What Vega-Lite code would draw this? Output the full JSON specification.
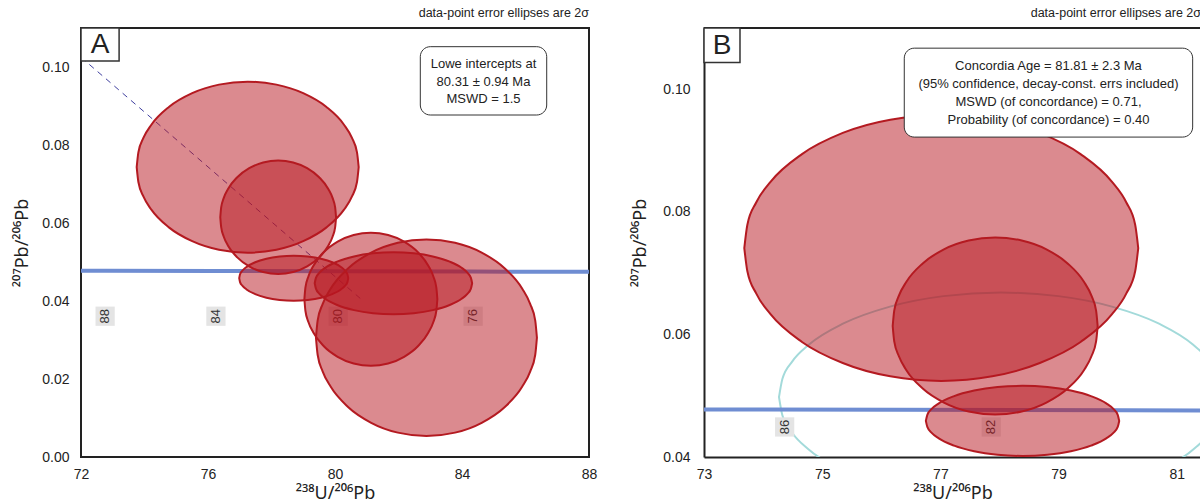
{
  "$schema": "https://vega.github.io/schema/vega-lite/v6.json",
  "padding": {"left": 12, "top": 5, "right": 0, "bottom": 0},
  "spacing": 33,
  "config": {
    "font": "Liberation Sans",
    "view": {"stroke": null},
    "axis": {"grid": false, "ticks": false, "domain": false, "labelFont": "Liberation Sans", "labelFontSize": 14, "labelColor": "#222", "titleFont": "Noto Sans", "titleFontSize": 18, "titleFontWeight": "normal", "titleColor": "#222", "labelFlush": false},
    "title": {"font": "Liberation Sans", "fontSize": 12.5, "fontWeight": "normal", "color": "#222", "anchor": "end", "offset": 8, "frame": "group"}
  },
  "datasets": {
    "conc": [
      {"x": 71.12, "y": 0.04781}, {"x": 72.75, "y": 0.04777}, {"x": 76.25, "y": 0.0477}, {"x": 80.08, "y": 0.04762}, {"x": 84.32, "y": 0.04754}, {"x": 89.06, "y": 0.04745}
    ],
    "agesA": [
      {"age": "88", "x": 72.76, "y": 0.0361}, {"age": "84", "x": 76.25, "y": 0.0361}, {"age": "80", "x": 80.1, "y": 0.0361}, {"age": "76", "x": 84.35, "y": 0.0361}
    ],
    "agesB": [
      {"age": "86", "x": 74.365, "y": 0.0449}, {"age": "82", "x": 77.86, "y": 0.0449}
    ],
    "discA": [{"x": 72, "y": 0.1025}, {"x": 80.89, "y": 0.04}],
    "boxA": [{"x": 82.687, "x2": 86.668, "y": 0.10521, "y2": 0.08769}],
    "txtA": [
      {"t": "Lowe intercepts at", "x": 84.677, "y": 0.10069},
      {"t": "80.31 ± 0.94 Ma", "x": 84.677, "y": 0.09608},
      {"t": "MSWD = 1.5", "x": 84.677, "y": 0.09179}
    ],
    "boxB": [{"x": 76.389, "x2": 81.269, "y": 0.10671, "y2": 0.0922}],
    "txtB": [
      {"t": "Concordia Age = 81.81 ± 2.3 Ma", "x": 78.829, "y": 0.10374},
      {"t": "(95% confidence, decay-const. errs included)", "x": 78.829, "y": 0.10086},
      {"t": "MSWD (of concordance) = 0.71,", "x": 78.829, "y": 0.09793},
      {"t": "Probability (of concordance) = 0.40", "x": 78.829, "y": 0.09496}
    ],
    "letA": [{"t": "A", "x": 72, "x2": 73.2, "y": 0.11, "y2": 0.10154, "tx": 72.598, "ty": 0.10564}],
    "letB": [{"t": "B", "x": 73, "x2": 73.609, "y": 0.11, "y2": 0.10439, "tx": 73.305, "ty": 0.10699}],
    "topB": [{"x": 73, "x2": 81.41, "y": 0.11}],
    "ellA": [
      {"id": "a1", "x": 73.754, "y": 0.07431, "y2": 0.07431},
      {"id": "a1", "x": 73.807, "y": 0.07812, "y2": 0.07051},
      {"id": "a1", "x": 73.965, "y": 0.08181, "y2": 0.06681},
      {"id": "a1", "x": 74.222, "y": 0.08527, "y2": 0.06335},
      {"id": "a1", "x": 74.778, "y": 0.08981, "y2": 0.05881},
      {"id": "a1", "x": 75.502, "y": 0.09329, "y2": 0.05533},
      {"id": "a1", "x": 76.345, "y": 0.09548, "y2": 0.05314},
      {"id": "a1", "x": 77.25, "y": 0.09623, "y2": 0.05239},
      {"id": "a1", "x": 78.155, "y": 0.09548, "y2": 0.05314},
      {"id": "a1", "x": 78.998, "y": 0.09329, "y2": 0.05533},
      {"id": "a1", "x": 79.722, "y": 0.08981, "y2": 0.05881},
      {"id": "a1", "x": 80.278, "y": 0.08527, "y2": 0.06335},
      {"id": "a1", "x": 80.535, "y": 0.08181, "y2": 0.06681},
      {"id": "a1", "x": 80.693, "y": 0.07812, "y2": 0.07051},
      {"id": "a1", "x": 80.746, "y": 0.07431, "y2": 0.07431},
      {"id": "a2", "x": 76.387, "y": 0.06146, "y2": 0.06146},
      {"id": "a2", "x": 76.415, "y": 0.06398, "y2": 0.05894},
      {"id": "a2", "x": 76.497, "y": 0.06643, "y2": 0.05649},
      {"id": "a2", "x": 76.631, "y": 0.06873, "y2": 0.05419},
      {"id": "a2", "x": 76.921, "y": 0.07174, "y2": 0.05118},
      {"id": "a2", "x": 77.298, "y": 0.07405, "y2": 0.04887},
      {"id": "a2", "x": 77.738, "y": 0.0755, "y2": 0.04742},
      {"id": "a2", "x": 78.21, "y": 0.076, "y2": 0.04692},
      {"id": "a2", "x": 78.682, "y": 0.0755, "y2": 0.04742},
      {"id": "a2", "x": 79.122, "y": 0.07405, "y2": 0.04887},
      {"id": "a2", "x": 79.499, "y": 0.07174, "y2": 0.05118},
      {"id": "a2", "x": 79.789, "y": 0.06873, "y2": 0.05419},
      {"id": "a2", "x": 79.923, "y": 0.06643, "y2": 0.05649},
      {"id": "a2", "x": 80.005, "y": 0.06398, "y2": 0.05894},
      {"id": "a2", "x": 80.033, "y": 0.06146, "y2": 0.06146},
      {"id": "a3", "x": 76.983, "y": 0.04585, "y2": 0.04585},
      {"id": "a3", "x": 77.009, "y": 0.04685, "y2": 0.04485},
      {"id": "a3", "x": 77.087, "y": 0.04782, "y2": 0.04388},
      {"id": "a3", "x": 77.213, "y": 0.04874, "y2": 0.04297},
      {"id": "a3", "x": 77.486, "y": 0.04993, "y2": 0.04177},
      {"id": "a3", "x": 77.841, "y": 0.05085, "y2": 0.04085},
      {"id": "a3", "x": 78.256, "y": 0.05142, "y2": 0.04028},
      {"id": "a3", "x": 78.7, "y": 0.05162, "y2": 0.04008},
      {"id": "a3", "x": 79.144, "y": 0.05142, "y2": 0.04028},
      {"id": "a3", "x": 79.559, "y": 0.05085, "y2": 0.04085},
      {"id": "a3", "x": 79.914, "y": 0.04993, "y2": 0.04177},
      {"id": "a3", "x": 80.187, "y": 0.04874, "y2": 0.04297},
      {"id": "a3", "x": 80.313, "y": 0.04782, "y2": 0.04388},
      {"id": "a3", "x": 80.391, "y": 0.04685, "y2": 0.04485},
      {"id": "a3", "x": 80.417, "y": 0.04585, "y2": 0.04585},
      {"id": "a4", "x": 79.036, "y": 0.04046, "y2": 0.04046},
      {"id": "a4", "x": 79.068, "y": 0.04342, "y2": 0.0375},
      {"id": "a4", "x": 79.162, "y": 0.04629, "y2": 0.03463},
      {"id": "a4", "x": 79.317, "y": 0.04899, "y2": 0.03194},
      {"id": "a4", "x": 79.649, "y": 0.05252, "y2": 0.0284},
      {"id": "a4", "x": 80.083, "y": 0.05523, "y2": 0.0257},
      {"id": "a4", "x": 80.588, "y": 0.05693, "y2": 0.02399},
      {"id": "a4", "x": 81.13, "y": 0.05751, "y2": 0.02341},
      {"id": "a4", "x": 81.672, "y": 0.05693, "y2": 0.02399},
      {"id": "a4", "x": 82.177, "y": 0.05523, "y2": 0.0257},
      {"id": "a4", "x": 82.611, "y": 0.05252, "y2": 0.0284},
      {"id": "a4", "x": 82.943, "y": 0.04899, "y2": 0.03194},
      {"id": "a4", "x": 83.098, "y": 0.04629, "y2": 0.03463},
      {"id": "a4", "x": 83.192, "y": 0.04342, "y2": 0.0375},
      {"id": "a4", "x": 83.224, "y": 0.04046, "y2": 0.04046},
      {"id": "a5", "x": 79.361, "y": 0.04454, "y2": 0.04454},
      {"id": "a5", "x": 79.399, "y": 0.04592, "y2": 0.04316},
      {"id": "a5", "x": 79.51, "y": 0.04726, "y2": 0.04182},
      {"id": "a5", "x": 79.693, "y": 0.04852, "y2": 0.04057},
      {"id": "a5", "x": 80.087, "y": 0.05016, "y2": 0.03892},
      {"id": "a5", "x": 80.6, "y": 0.05143, "y2": 0.03766},
      {"id": "a5", "x": 81.198, "y": 0.05222, "y2": 0.03686},
      {"id": "a5", "x": 81.84, "y": 0.05249, "y2": 0.03659},
      {"id": "a5", "x": 82.482, "y": 0.05222, "y2": 0.03686},
      {"id": "a5", "x": 83.08, "y": 0.05143, "y2": 0.03766},
      {"id": "a5", "x": 83.593, "y": 0.05016, "y2": 0.03892},
      {"id": "a5", "x": 83.987, "y": 0.04852, "y2": 0.04057},
      {"id": "a5", "x": 84.17, "y": 0.04726, "y2": 0.04182},
      {"id": "a5", "x": 84.281, "y": 0.04592, "y2": 0.04316},
      {"id": "a5", "x": 84.319, "y": 0.04454, "y2": 0.04454},
      {"id": "a6", "x": 79.4, "y": 0.03059, "y2": 0.03059},
      {"id": "a6", "x": 79.453, "y": 0.03497, "y2": 0.02622},
      {"id": "a6", "x": 79.61, "y": 0.03921, "y2": 0.02197},
      {"id": "a6", "x": 79.866, "y": 0.04319, "y2": 0.01799},
      {"id": "a6", "x": 80.419, "y": 0.04841, "y2": 0.01277},
      {"id": "a6", "x": 81.14, "y": 0.05241, "y2": 0.00877},
      {"id": "a6", "x": 81.979, "y": 0.05493, "y2": 0.00625},
      {"id": "a6", "x": 82.88, "y": 0.05579, "y2": 0.00539},
      {"id": "a6", "x": 83.781, "y": 0.05493, "y2": 0.00625},
      {"id": "a6", "x": 84.62, "y": 0.05241, "y2": 0.00877},
      {"id": "a6", "x": 85.341, "y": 0.04841, "y2": 0.01277},
      {"id": "a6", "x": 85.894, "y": 0.04319, "y2": 0.01799},
      {"id": "a6", "x": 86.15, "y": 0.03921, "y2": 0.02197},
      {"id": "a6", "x": 86.307, "y": 0.03497, "y2": 0.02622},
      {"id": "a6", "x": 86.36, "y": 0.03059, "y2": 0.03059}
    ],
    "ellB": [
      {"id": "b1", "x": 73.682, "y": 0.0741, "y2": 0.0741},
      {"id": "b1", "x": 73.733, "y": 0.07786, "y2": 0.07034},
      {"id": "b1", "x": 73.883, "y": 0.08152, "y2": 0.06669},
      {"id": "b1", "x": 74.129, "y": 0.08494, "y2": 0.06326},
      {"id": "b1", "x": 74.658, "y": 0.08943, "y2": 0.05877},
      {"id": "b1", "x": 75.348, "y": 0.09288, "y2": 0.05533},
      {"id": "b1", "x": 76.152, "y": 0.09504, "y2": 0.05316},
      {"id": "b1", "x": 77.015, "y": 0.09578, "y2": 0.05242},
      {"id": "b1", "x": 77.878, "y": 0.09504, "y2": 0.05316},
      {"id": "b1", "x": 78.682, "y": 0.09288, "y2": 0.05533},
      {"id": "b1", "x": 79.372, "y": 0.08943, "y2": 0.05877},
      {"id": "b1", "x": 79.901, "y": 0.08494, "y2": 0.06326},
      {"id": "b1", "x": 80.147, "y": 0.08152, "y2": 0.06669},
      {"id": "b1", "x": 80.297, "y": 0.07786, "y2": 0.07034},
      {"id": "b1", "x": 80.348, "y": 0.0741, "y2": 0.0741},
      {"id": "b2", "x": 76.193, "y": 0.06138, "y2": 0.06138},
      {"id": "b2", "x": 76.219, "y": 0.06389, "y2": 0.05887},
      {"id": "b2", "x": 76.298, "y": 0.06632, "y2": 0.05644},
      {"id": "b2", "x": 76.425, "y": 0.0686, "y2": 0.05416},
      {"id": "b2", "x": 76.701, "y": 0.07159, "y2": 0.05117},
      {"id": "b2", "x": 77.06, "y": 0.07389, "y2": 0.04888},
      {"id": "b2", "x": 77.478, "y": 0.07533, "y2": 0.04743},
      {"id": "b2", "x": 77.927, "y": 0.07582, "y2": 0.04694},
      {"id": "b2", "x": 78.376, "y": 0.07533, "y2": 0.04743},
      {"id": "b2", "x": 78.794, "y": 0.07389, "y2": 0.04888},
      {"id": "b2", "x": 79.153, "y": 0.07159, "y2": 0.05117},
      {"id": "b2", "x": 79.429, "y": 0.0686, "y2": 0.05416},
      {"id": "b2", "x": 79.556, "y": 0.06632, "y2": 0.05644},
      {"id": "b2", "x": 79.635, "y": 0.06389, "y2": 0.05887},
      {"id": "b2", "x": 79.661, "y": 0.06138, "y2": 0.06138},
      {"id": "b3", "x": 76.754, "y": 0.04589, "y2": 0.04589},
      {"id": "b3", "x": 76.779, "y": 0.04688, "y2": 0.0449},
      {"id": "b3", "x": 76.853, "y": 0.04785, "y2": 0.04393},
      {"id": "b3", "x": 76.973, "y": 0.04875, "y2": 0.04303},
      {"id": "b3", "x": 77.233, "y": 0.04994, "y2": 0.04185},
      {"id": "b3", "x": 77.572, "y": 0.05084, "y2": 0.04094},
      {"id": "b3", "x": 77.967, "y": 0.05142, "y2": 0.04037},
      {"id": "b3", "x": 78.39, "y": 0.05161, "y2": 0.04017},
      {"id": "b3", "x": 78.813, "y": 0.05142, "y2": 0.04037},
      {"id": "b3", "x": 79.208, "y": 0.05084, "y2": 0.04094},
      {"id": "b3", "x": 79.547, "y": 0.04994, "y2": 0.04185},
      {"id": "b3", "x": 79.807, "y": 0.04875, "y2": 0.04303},
      {"id": "b3", "x": 79.927, "y": 0.04785, "y2": 0.04393},
      {"id": "b3", "x": 80.001, "y": 0.04688, "y2": 0.0449},
      {"id": "b3", "x": 80.026, "y": 0.04589, "y2": 0.04589}
    ],
    "cyanB": [
      {"x": 74.269, "y": 0.04976, "y2": 0.04976},
      {"x": 74.326, "y": 0.05272, "y2": 0.0468},
      {"x": 74.495, "y": 0.0556, "y2": 0.04392},
      {"x": 74.772, "y": 0.0583, "y2": 0.04123},
      {"x": 75.369, "y": 0.06183, "y2": 0.03769},
      {"x": 76.147, "y": 0.06454, "y2": 0.03498},
      {"x": 77.053, "y": 0.06625, "y2": 0.03327},
      {"x": 78.025, "y": 0.06683, "y2": 0.03269},
      {"x": 78.997, "y": 0.06625, "y2": 0.03327},
      {"x": 79.903, "y": 0.06454, "y2": 0.03498},
      {"x": 80.681, "y": 0.06183, "y2": 0.03769},
      {"x": 81.278, "y": 0.0583, "y2": 0.04123},
      {"x": 81.555, "y": 0.0556, "y2": 0.04392},
      {"x": 81.724, "y": 0.05272, "y2": 0.0468},
      {"x": 81.781, "y": 0.04976, "y2": 0.04976}
    ]
  },
  "hconcat": [
    {
      "width": 508,
      "height": 429,
      "title": {"text": "data-point error ellipses are 2σ"},
      "view": {"stroke": "#222", "strokeWidth": 2},
      "encoding": {
        "x": {"field": "x", "type": "quantitative", "scale": {"domain": [72, 88], "nice": false, "zero": false}, "axis": {"values": [72, 76, 80, 84, 88], "title": "²³⁸U/²⁰⁶Pb", "labelPadding": 10, "titlePadding": 3}},
        "y": {"field": "y", "type": "quantitative", "scale": {"domain": [0, 0.11], "nice": false, "zero": false}, "axis": {"values": [0, 0.02, 0.04, 0.06, 0.08, 0.1], "format": ".2f", "title": "²⁰⁷Pb/²⁰⁶Pb", "labelPadding": 12, "titlePadding": 10}}
      },
      "layer": [
        {"data": {"name": "conc"}, "mark": {"type": "line", "color": "#6F8DD2", "strokeWidth": 4, "clip": true}},
        {"data": {"name": "agesA"}, "mark": {"type": "point", "shape": "square", "filled": true, "size": 370, "color": "#E4E4E4", "opacity": 1}},
        {"data": {"name": "agesA"}, "mark": {"type": "text", "angle": 270, "fontSize": 13, "color": "#333", "align": "center", "baseline": "middle"}, "encoding": {"text": {"field": "age"}}},
        {"data": {"name": "discA"}, "mark": {"type": "line", "color": "#3F3F9F", "strokeWidth": 1, "strokeDash": [6, 5], "clip": true}},
        {"data": {"name": "ellA"}, "mark": {"type": "area", "interpolate": "monotone", "fill": "#B8151F", "fillOpacity": 0.5, "stroke": "#B41A21", "strokeWidth": 2, "strokeOpacity": 1, "clip": true}, "encoding": {"y2": {"field": "y2"}, "detail": {"field": "id"}}},
        {"data": {"name": "boxA"}, "mark": {"type": "rect", "fill": "white", "stroke": "#333", "strokeWidth": 1, "cornerRadius": 10}, "encoding": {"x2": {"field": "x2"}, "y2": {"field": "y2"}}},
        {"data": {"name": "txtA"}, "mark": {"type": "text", "fontSize": 13, "color": "#222", "align": "center", "baseline": "middle"}, "encoding": {"text": {"field": "t"}}},
        {"data": {"name": "letA"}, "mark": {"type": "rect", "fill": "white", "stroke": "#333", "strokeWidth": 1.5}, "encoding": {"x2": {"field": "x2"}, "y2": {"field": "y2"}}},
        {"data": {"name": "letA"}, "mark": {"type": "text", "fontSize": 28, "color": "#222", "align": "center", "baseline": "middle"}, "encoding": {"x": {"field": "tx", "type": "quantitative"}, "y": {"field": "ty", "type": "quantitative"}, "text": {"field": "t"}}}
      ]
    },
    {
      "width": 497,
      "height": 429,
      "title": {"text": "data-point error ellipses are 2σ"},
      "encoding": {
        "x": {"field": "x", "type": "quantitative", "scale": {"domain": [73, 81.41], "nice": false, "zero": false}, "axis": {"values": [73, 75, 77, 79, 81], "title": "²³⁸U/²⁰⁶Pb", "labelPadding": 10, "titlePadding": 3, "domain": true, "domainColor": "#222", "domainWidth": 2}},
        "y": {"field": "y", "type": "quantitative", "scale": {"domain": [0.04, 0.11], "nice": false, "zero": false}, "axis": {"values": [0.04, 0.06, 0.08, 0.1], "format": ".2f", "title": "²⁰⁷Pb/²⁰⁶Pb", "labelPadding": 14, "titlePadding": 13, "domain": true, "domainColor": "#222", "domainWidth": 2}}
      },
      "layer": [
        {"data": {"name": "cyanB"}, "mark": {"type": "area", "interpolate": "monotone", "fill": null, "fillOpacity": 0, "stroke": "#A3DADA", "strokeWidth": 2, "clip": true}, "encoding": {"y2": {"field": "y2"}}},
        {"data": {"name": "conc"}, "mark": {"type": "line", "color": "#6F8DD2", "strokeWidth": 4, "clip": true}},
        {"data": {"name": "agesB"}, "mark": {"type": "point", "shape": "square", "filled": true, "size": 370, "color": "#E4E4E4", "opacity": 1}},
        {"data": {"name": "agesB"}, "mark": {"type": "text", "angle": 270, "fontSize": 13, "color": "#333", "align": "center", "baseline": "middle"}, "encoding": {"text": {"field": "age"}}},
        {"data": {"name": "ellB"}, "mark": {"type": "area", "interpolate": "monotone", "fill": "#B8151F", "fillOpacity": 0.5, "stroke": "#B41A21", "strokeWidth": 2, "strokeOpacity": 1, "clip": true}, "encoding": {"y2": {"field": "y2"}, "detail": {"field": "id"}}},
        {"data": {"name": "boxB"}, "mark": {"type": "rect", "fill": "white", "stroke": "#333", "strokeWidth": 1, "cornerRadius": 10}, "encoding": {"x2": {"field": "x2"}, "y2": {"field": "y2"}}},
        {"data": {"name": "txtB"}, "mark": {"type": "text", "fontSize": 13, "color": "#222", "align": "center", "baseline": "middle"}, "encoding": {"text": {"field": "t"}}},
        {"data": {"name": "topB"}, "mark": {"type": "rule", "color": "#222", "strokeWidth": 2}, "encoding": {"x2": {"field": "x2"}}},
        {"data": {"name": "letB"}, "mark": {"type": "rect", "fill": "white", "stroke": "#333", "strokeWidth": 1.5}, "encoding": {"x2": {"field": "x2"}, "y2": {"field": "y2"}}},
        {"data": {"name": "letB"}, "mark": {"type": "text", "fontSize": 28, "color": "#222", "align": "center", "baseline": "middle"}, "encoding": {"x": {"field": "tx", "type": "quantitative"}, "y": {"field": "ty", "type": "quantitative"}, "text": {"field": "t"}}}
      ]
    }
  ]
}
